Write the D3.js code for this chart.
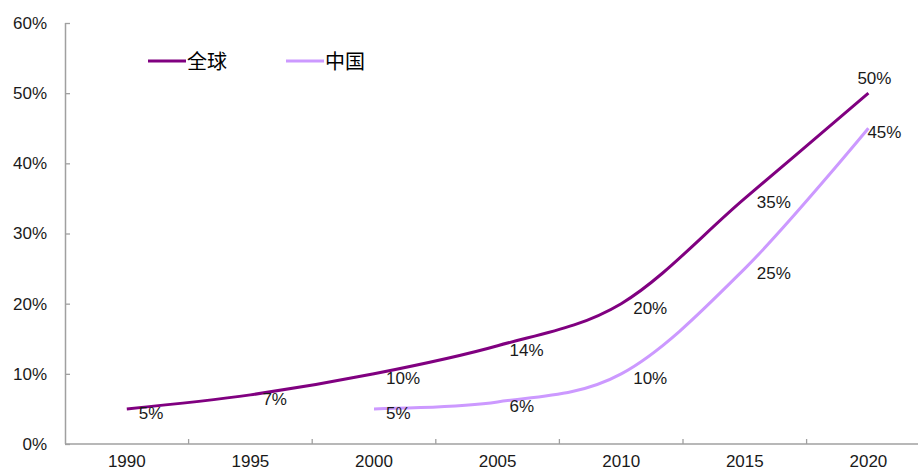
<!DOCTYPE html>
<html>
<head>
<meta charset="utf-8">
<script src="https://cdn.jsdelivr.net/npm/d3@7"></script>
<style>
  body { margin: 0; background: #fff; }
  svg { display: block; font-family: "Liberation Sans", Arial, sans-serif; }
</style>
</head>
<body>
<div id="chart"></div>
<script>
// chart values
var years = ["1990", "1995", "2000", "2005", "2010", "2015", "2020"];
var globalValues = [5, 7, 10, 14, 20, 35, 50];
var chinaYears = ["2000", "2005", "2010", "2015", "2020"];
var chinaValues = [5, 6, 10, 25, 45];
var yTicks = [0, 10, 20, 30, 40, 50, 60];
var seriesNames = ["全球", "中国"];

var width = 918, height = 472;
var margin = {left: 65, top: 23, bottom: 28};

var svg = d3.select("#chart").append("svg")
    .attr("width", width)
    .attr("height", height);

// category axis runs past the right edge of the picture, as in the original
var x = d3.scaleBand()
    .domain(years)
    .range([margin.left, margin.left + 7 * 123.6]);
var y = d3.scaleLinear()
    .domain([0, 60])
    .range([height - margin.bottom, margin.top]);

var axisColor = "#a0a0a0";
var fontSize = "17px";

//Y axis with inner ticks
var yAxis = svg.append("g")
    .attr("transform", "translate(" + margin.left + ",0)")
    .call(d3.axisLeft(y).tickValues(yTicks).tickSize(-5).tickPadding(18).tickFormat(function(d){ return d + "%"; }));
yAxis.select(".domain").attr("stroke", axisColor).attr("stroke-width", 1.5).attr("d", "M0.5," + y(60) + "V" + y(0));
yAxis.selectAll(".tick line").attr("stroke", axisColor).attr("stroke-width", 1.3);
yAxis.selectAll(".tick text").attr("fill", "#1a1a1a").style("font-size", fontSize);

//X axis: ticks sit between categories
var xAxis = svg.append("g")
    .attr("transform", "translate(0," + y(0) + ")");
xAxis.append("line")
    .attr("x1", margin.left).attr("x2", width)
    .attr("stroke", axisColor).attr("stroke-width", 1.5);
xAxis.selectAll("line.sep")
    .data(years.slice(1))
    .enter().append("line")
    .attr("class", "sep")
    .attr("x1", function(d){ return x(d); })
    .attr("x2", function(d){ return x(d); })
    .attr("y1", 0).attr("y2", -5)
    .attr("stroke", axisColor).attr("stroke-width", 1.3);
xAxis.selectAll("text")
    .data(years)
    .enter().append("text")
    .attr("x", function(d){ return x(d) + x.bandwidth() / 2; })
    .attr("y", 23)
    .attr("text-anchor", "middle")
    .attr("fill", "#1a1a1a")
    .style("font-size", fontSize)
    .text(function(d){ return d; });

var line = d3.line()
    .x(function(d){ return x(d[0]) + x.bandwidth() / 2; })
    .y(function(d){ return y(d[1]); })
    .curve(d3.curveCardinal.tension(0));

var series = [
    {name: seriesNames[0], color: "#800080", pts: d3.zip(years, globalValues)},
    {name: seriesNames[1], color: "#cc99ff", pts: d3.zip(chinaYears, chinaValues)}
];

series.forEach(function(s, sIdx){
    svg.append("path")
        .attr("d", line(s.pts))
        .attr("fill", "none")
        .attr("stroke", s.color)
        .attr("stroke-width", 3);

    //data labels, the last point gets its own placement
    svg.selectAll("text.lbl" + sIdx)
        .data(s.pts)
        .enter().append("text")
        .attr("class", "lbl" + sIdx)
        .attr("x", function(d, i){
            let cx = x(d[0]) + x.bandwidth() / 2;
            if (i === s.pts.length - 1) return sIdx === 0 ? cx + 6 : cx + 16;
            return cx + 12;
        })
        .attr("y", function(d, i){
            let cy = y(d[1]);
            if (i === s.pts.length - 1 && sIdx === 0) return cy - 9;
            return cy + 10;
        })
        .attr("text-anchor", function(d, i){ return i === s.pts.length - 1 ? "middle" : "start"; })
        .attr("fill", "#1a1a1a")
        .style("font-size", fontSize)
        .text(function(d){ return d[1] + "%"; });
});

//Legend
var legend = svg.append("g").attr("transform", "translate(148,61)");
series.forEach(function(s, i){
    let g = legend.append("g").attr("transform", "translate(" + (i * 138) + ",0)");
    g.append("line")
        .attr("x1", 0).attr("x2", 38)
        .attr("stroke", s.color).attr("stroke-width", 3);
    g.append("text")
        .attr("x", 39).attr("y", 8)
        .attr("fill", "#000")
        .style("font-family", "'Noto Sans CJK SC', sans-serif")
        .style("font-size", "20px")
        .text(s.name);
});
</script>
</body>
</html>
